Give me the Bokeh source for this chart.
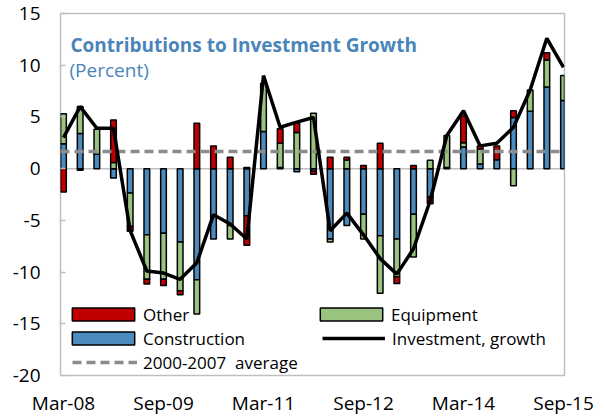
import numpy as np
from bokeh.plotting import figure
from bokeh.models import (ColumnDataSource, FixedTicker, Span, Label, Legend,
                          LegendItem, Range1d)
from bokeh.embed import file_html
from bokeh.resources import INLINE

# ---------------- data ----------------
quarters = ["Mar-08", "Jun-08", "Sep-08", "Dec-08", "Mar-09", "Jun-09", "Sep-09", "Dec-09",
            "Mar-10", "Jun-10", "Sep-10", "Dec-10", "Mar-11", "Jun-11", "Sep-11", "Dec-11",
            "Mar-12", "Jun-12", "Sep-12", "Dec-12", "Mar-13", "Jun-13", "Sep-13", "Dec-13",
            "Mar-14", "Jun-14", "Sep-14", "Dec-14", "Mar-15", "Jun-15", "Sep-15"]
construction = [2.4, 3.4, 1.4, -0.9, -2.35, -6.4, -6.25, -7.1, -10.75, -6.8, -5.5, -4.55,
                3.6, 0.1, -0.3, -0.25, -6.8, -5.5, -4.4, -6.5, -6.8, -4.4, -2.75, 0.1,
                2.1, 0.45, 0.85, 4.95, 5.55, 7.9, 6.6]
equipment = [2.9, 2.6, 2.4, 0.6, -3.25, -4.3, -4.45, -4.7, -3.3, 0.0, -1.3, 0.1,
             4.65, 2.35, 3.5, 5.35, -0.3, 0.84, -2.4, -5.55, -3.65, -4.15, 0.8, 3.1,
             0.4, 1.45, 0.0, -1.65, 2.05, 2.6, 2.4]
other = [-2.25, -0.15, 0.0, 4.1, -0.45, -0.45, -0.6, -0.4, 4.4, 2.2, 1.1, -2.85,
         0.0, 1.4, 0.9, -0.3, 1.1, 0.26, 0.3, 2.45, -0.65, 0.3, -0.65, 0.0,
         2.6, 0.3, 1.35, 0.65, 0.0, 0.7, 0.0]
investment_growth = [3.0, 6.0, 3.9, 3.9, -6.0, -9.9, -10.1, -10.7, -9.1, -4.45, -5.35, -6.8,
                     9.0, 4.0, 4.5, 4.95, -6.0, -4.3, -6.4, -8.7, -10.2, -7.75, -3.1, 3.2,
                     5.6, 2.2, 2.45, 4.0, 7.6, 12.6, 9.8]
average_2000_2007 = 1.65
x_tick_positions = [0, 6, 12, 18, 24, 30]
x_tick_labels = ["Mar-08", "Sep-09", "Mar-11", "Sep-12", "Mar-14", "Sep-15"]
y_ticks = [-20, -15, -10, -5, 0, 5, 10, 15]
y_tick_labels = ["-20", "-15", "-10", "-5", "0", "5", "10", "15"]

# ---------------- style ----------------
FONT = "Open Sans"
BLUE = "#4B8BBE"
GREEN = "#9BC380"
RED = "#C00000"
TITLE_BLUE = "#4A85BA"
FRAME = "#BFBFBF"

n = len(quarters)
idx = np.arange(n)

p = figure(width=605, height=419, output_backend="svg", toolbar_location=None,
           x_range=Range1d(-0.18, 30.06), y_range=Range1d(-20, 15),
           min_border_left=60, min_border_right=41, min_border_top=13,
           min_border_bottom=44)
p.grid.visible = False
p.outline_line_color = FRAME
p.outline_line_width = 1.5
p.background_fill_color = "white"

zero = Span(location=0, dimension="width", line_color=FRAME, line_width=1.5,
            level="underlay")
p.add_layout(zero)

# stacked bars (positives up, negatives down, in series order)
pos_base = np.zeros(n)
neg_base = np.zeros(n)
bar_renderers = {}
for name, vals, color in [("Construction", construction, BLUE),
                          ("Equipment", equipment, GREEN),
                          ("Other", other, RED)]:
    v = np.array(vals, dtype=float)
    pos = np.clip(v, 0, None)
    neg = np.clip(v, None, 0)
    rs = []
    for part, base in [(pos, pos_base), (neg, neg_base)]:
        m = part != 0
        src = ColumnDataSource(dict(x=idx[m], bottom=base[m], top=(base + part)[m]))
        r = p.vbar(x="x", bottom="bottom", top="top", width=0.34, source=src,
                   fill_color=color, line_color="black", line_width=1.5)
        rs.append(r)
    pos_base = pos_base + pos
    neg_base = neg_base + neg
    bar_renderers[name] = rs

avg_r = p.line(x=[p.x_range.start, p.x_range.end],
               y=[average_2000_2007, average_2000_2007],
               line_color="#8C8C8C", line_width=3.5, line_dash="9 5")
line_r = p.line(x=idx, y=investment_growth, line_color="black", line_width=3.5)

# axes
p.xaxis.ticker = FixedTicker(ticks=x_tick_positions)
p.xaxis.major_label_overrides = {t: l for t, l in zip(x_tick_positions, x_tick_labels)}
p.xaxis.axis_line_color = None
p.xaxis.major_tick_line_color = None
p.xaxis.minor_tick_line_color = None
p.xaxis.major_label_standoff = 8
p.xaxis.major_label_text_font = FONT
p.xaxis.major_label_text_font_size = "19px"
p.xaxis.major_label_text_color = "black"

p.yaxis.ticker = FixedTicker(ticks=y_ticks)
p.yaxis.major_label_overrides = {t: l for t, l in zip(y_ticks, y_tick_labels)}
p.yaxis.axis_line_color = None
p.yaxis.major_tick_in = 5
p.yaxis.major_tick_out = 0
p.yaxis.major_tick_line_color = FRAME
p.yaxis.major_tick_line_width = 1.5
p.yaxis.minor_tick_line_color = None
p.yaxis.major_label_standoff = 20
p.yaxis.major_label_text_font = FONT
p.yaxis.major_label_text_font_size = "19px"
p.yaxis.major_label_text_color = "black"

# title texts
p.add_layout(Label(x=0.42, y=12.0, text="Contributions to Investment Growth",
                   text_font=FONT, text_font_size="19px", text_font_style="bold",
                   text_color=TITLE_BLUE, text_baseline="alphabetic"))
p.add_layout(Label(x=0.36, y=9.55, text="(Percent)",
                   text_font=FONT, text_font_size="19px",
                   text_color=TITLE_BLUE, text_baseline="alphabetic"))

# legends
def make_legend(label, renderers, loc, gw, gh, standoff):
    lg = Legend(items=[LegendItem(label=label, renderers=renderers)],
                location=loc, orientation="vertical", padding=0, margin=0,
                border_line_color=None, background_fill_alpha=0,
                glyph_width=gw, glyph_height=gh, label_standoff=standoff,
                label_height=24, spacing=0,
                label_text_font=FONT, label_text_font_size="17px",
                label_text_color="black")
    p.add_layout(lg, "center")

make_legend("Other", [bar_renderers["Other"][0]], (4, 49), 78, 16, 1)
make_legend("Construction", [bar_renderers["Construction"][0]], (4, 25), 78, 16, 1)
make_legend("2000-2007  average", [avg_r], (12, 1), 65, 24, 6)
make_legend("Equipment", [bar_renderers["Equipment"][0]], (252, 49), 78, 16, 1)
make_legend("Investment, growth", [line_r], (262, 25), 63, 24, 7)

open("out.html", "w").write(file_html(p, INLINE))
